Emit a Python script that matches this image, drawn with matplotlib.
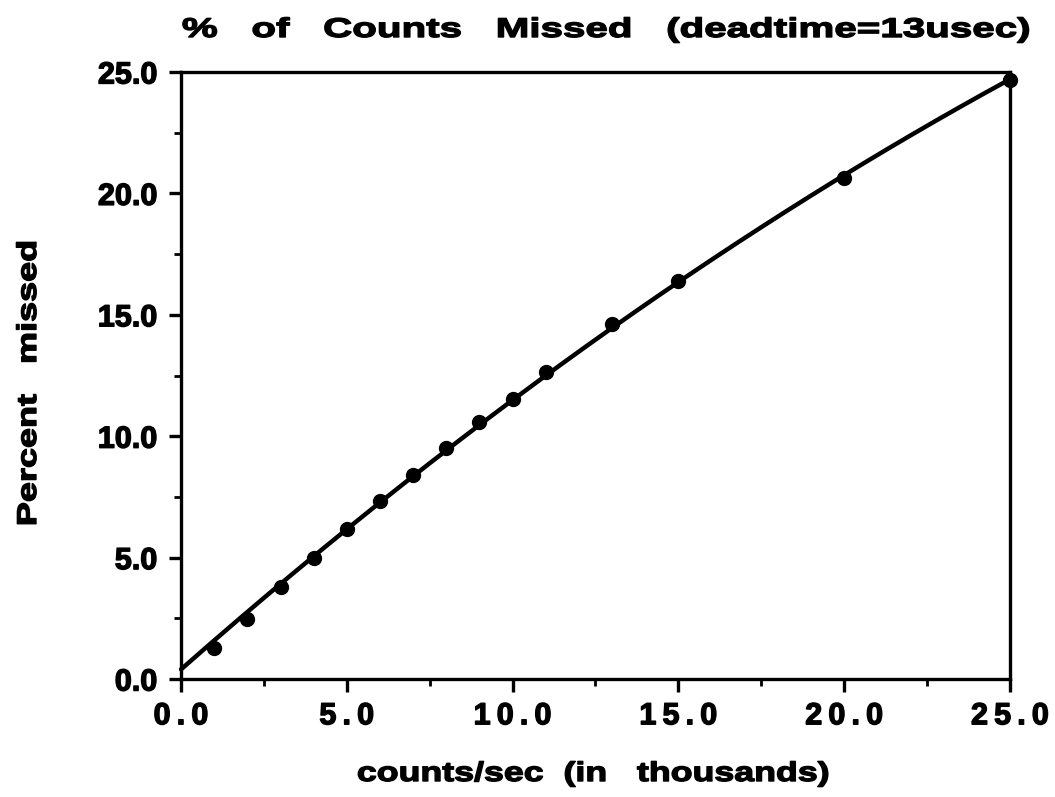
import numpy as np
import matplotlib
matplotlib.use("Agg")
import matplotlib.pyplot as plt
from matplotlib.ticker import MultipleLocator
from matplotlib.patheffects import AbstractPathEffect
from matplotlib.transforms import Affine2D

# Measured rates (thousands of counts/sec) and percentage of counts missed
rate_k = [1, 2, 3, 4, 5, 6, 7, 8, 9, 10, 11, 13, 15, 20, 25]
pct_missed = [1.28, 2.49, 3.79, 4.98, 6.16, 7.33, 8.40, 9.51, 10.58, 11.53,
              12.64, 14.62, 16.39, 20.65, 24.67]

# Smooth trend curve values at a few rates
curve_x = [0, 5, 10, 15, 20, 25]
curve_y = [0.40, 6.17, 11.49, 16.35, 20.75, 24.70]

x_ticks = [0.0, 5.0, 10.0, 15.0, 20.0, 25.0]
y_ticks = [0.0, 5.0, 10.0, 15.0, 20.0, 25.0]

TITLE = "%   of   Counts   Missed   (deadtime=13usec)"
XLABEL = "counts/sec  (in   thousands)"
YLABEL = "Percent   missed"

FAMILY = ["Liberation Sans", "DejaVu Sans"]


class Widen(AbstractPathEffect):
    """Stretch text glyphs horizontally and thicken them with an outline."""

    def __init__(self, sx, anchor="center", stroke=0.8):
        super().__init__()
        self.sx = sx
        self.anchor = anchor
        self.stroke = stroke

    def draw_path(self, renderer, gc, tpath, affine, rgbFace=None):
        ext = tpath.get_extents()
        if self.anchor == "right":
            cx = ext.x1
        elif self.anchor == "left":
            cx = ext.x0
        else:
            cx = 0.5 * (ext.x0 + ext.x1)
        t = Affine2D().translate(-cx, 0).scale(self.sx, 1.0).translate(cx, 0) + affine
        gc0 = renderer.new_gc()
        gc0.copy_properties(gc)
        gc0.set_linewidth(self.stroke)
        gc0.set_joinstyle("round")
        if rgbFace is not None:
            gc0.set_foreground(rgbFace)
        renderer.draw_path(gc0, tpath, t, rgbFace)
        gc0.restore()


def tracked(s, gap="\u2009"):
    return gap.join(s)


fig = plt.figure(figsize=(10.55, 7.97), dpi=100)
ax = fig.add_axes([0.1716, 0.148, 0.9573 - 0.1716, 0.9097 - 0.148])

# Trend curve: quadratic through the curve values
coef = np.polyfit(curve_x, curve_y, 2)
xs = np.linspace(0, 25, 300)
ax.plot(xs, np.polyval(coef, xs), color="black", lw=3.2, solid_capstyle="round",
        zorder=2, clip_on=False)
ax.plot(rate_k, pct_missed, "o", color="black", ms=10, zorder=3, clip_on=False)

ax.set_xlim(0, 25)
ax.set_ylim(0, 25)
ax.set_xticks(x_ticks)
ax.set_yticks(y_ticks)
ax.xaxis.set_minor_locator(MultipleLocator(2.5))
ax.yaxis.set_minor_locator(MultipleLocator(2.5))
ax.set_xticklabels([tracked(f"{v:.1f}") for v in x_ticks])
ax.set_yticklabels([f"{v:.1f}" for v in y_ticks])

for sp in ax.spines.values():
    sp.set_linewidth(2.4)
    sp.set_color("black")

ax.tick_params(which="major", direction="out", length=9, width=2.4, color="black")
ax.tick_params(which="minor", direction="out", length=5, width=2.0, color="black")
ax.tick_params(axis="x", which="major", pad=7)
ax.tick_params(axis="y", which="major", pad=8)

for lbl in ax.get_xticklabels():
    lbl.set_fontfamily(FAMILY)
    lbl.set_fontweight("bold")
    lbl.set_fontsize(22)
    lbl.set_path_effects([Widen(1.0, "center", 1.0)])
for lbl in ax.get_yticklabels():
    lbl.set_fontfamily(FAMILY)
    lbl.set_fontweight("bold")
    lbl.set_fontsize(22)
    lbl.set_path_effects([Widen(1.0, "right", 1.0)])

W, H = 1055.0, 797.0
fig.text(606 / W, 1 - 37 / H, TITLE, ha="center", va="baseline",
         fontsize=19.5, fontweight="bold", family=FAMILY,
         path_effects=[Widen(1.49, "center", 1.0)])
fig.text(593 / W, 1 - 781 / H, XLABEL, ha="center", va="baseline",
         fontsize=19.5, fontweight="bold", family=FAMILY,
         path_effects=[Widen(1.32, "center", 1.0)])
fig.text(29 / W, 1 - 383 / H, YLABEL, ha="center", va="center", rotation=90,
         fontsize=19.5, fontweight="bold", family=FAMILY,
         path_effects=[Widen(1.33, "center", 1.0)])

fig.savefig("out.png", dpi=100, facecolor="white")
